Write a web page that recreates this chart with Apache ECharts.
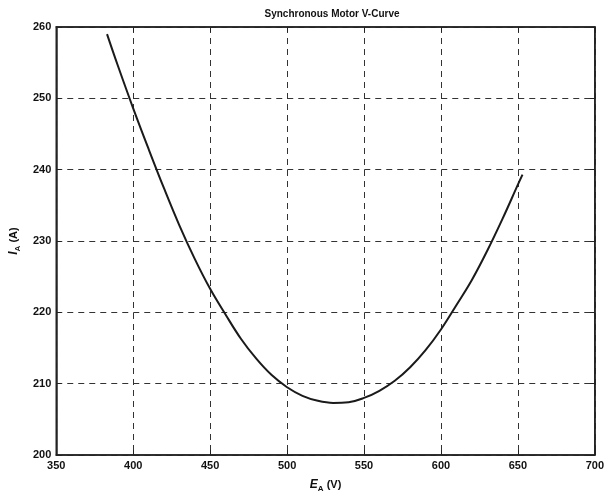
<!DOCTYPE html>
<html>
<head>
<meta charset="utf-8">
<script src="https://cdn.jsdelivr.net/npm/echarts@6/dist/echarts.min.js"></script>
<style>html,body{margin:0;padding:0;background:#fff}#c{width:607px;height:498px}</style>
</head>
<body>
<div id="c"></div>
<script>
const titleText = 'Synchronous Motor V-Curve';
const eaValues = [383, 390, 400, 410, 420, 430, 440, 450, 460, 470, 480, 490, 500, 510, 520, 530, 540, 550, 560, 570, 580, 590, 600, 610, 620, 630, 640, 650, 653];
const iaValues = [259.0, 254.6, 248.6, 242.9, 237.4, 232.2, 227.5, 223.3, 219.7, 216.3, 213.5, 211.2, 209.5, 208.3, 207.6, 207.3, 207.4, 208.0, 209.0, 210.4, 212.3, 214.7, 217.6, 221.0, 224.5, 228.6, 233.1, 237.9, 239.3];
const xTicks = [350, 400, 450, 500, 550, 600, 650, 700];
const yTicks = [200, 210, 220, 230, 240, 250, 260];

const points = eaValues.map((x, i) => [x, iaValues[i]]);
const font = 'Liberation Sans, Arial, sans-serif';
const gridLine = {show: true, lineStyle: {color: '#333', width: 1, type: [6, 5]}};
const labelStyle = {color: '#111', fontSize: 11, fontWeight: 'bold', fontFamily: font};

const chart = echarts.init(document.getElementById('c'), null, {renderer: 'canvas'});
chart.setOption({
  animation: false,
  backgroundColor: '#fff',
  title: {
    text: titleText, left: 327, top: 4, textAlign: 'center',
    textStyle: {fontSize: 10, fontWeight: 'bold', color: '#111', fontFamily: font}
  },
  grid: {left: 56, right: 7, top: 27, bottom: 37, show: true, borderColor: '#222', borderWidth: 1.5},
  xAxis: [{
    type: 'value', min: xTicks[0], max: xTicks[xTicks.length - 1], interval: 50,
    axisLine: {show: true, lineStyle: {color: '#222', width: 1.5}},
    axisTick: {show: true, inside: true, length: 5, lineStyle: {color: '#222'}},
    axisLabel: Object.assign({margin: 5}, labelStyle),
    splitLine: gridLine,
    name: '{i|E}{s|A}{n| (V)}', nameLocation: 'middle', nameGap: 22,
    nameTextStyle: {rich: {
      i: {fontSize: 12, fontWeight: 'bold', fontStyle: 'italic', fontFamily: font, color: '#111'},
      s: {fontSize: 8, fontWeight: 'bold', fontFamily: font, color: '#111', padding: [8, 0, 0, 0]},
      n: {fontSize: 11, fontWeight: 'bold', fontFamily: font, color: '#111'}
    }}
  }, {
    type: 'value', position: 'top', min: xTicks[0], max: xTicks[xTicks.length - 1], interval: 50,
    axisLine: {show: true, lineStyle: {color: '#222', width: 1.5}},
    axisTick: {show: true, inside: true, length: 5, lineStyle: {color: '#222'}},
    axisLabel: {show: false}, splitLine: {show: false}
  }],
  yAxis: [{
    type: 'value', min: yTicks[0], max: yTicks[yTicks.length - 1], interval: 10,
    axisLine: {show: true, lineStyle: {color: '#222', width: 1.5}},
    axisTick: {show: true, inside: true, length: 5, lineStyle: {color: '#222'}},
    axisLabel: Object.assign({margin: 5}, labelStyle),
    splitLine: gridLine,
    name: '{i|I}{s|A}{n| (A)}', nameLocation: 'middle', nameGap: 32, nameRotate: 90,
    nameTextStyle: {rich: {
      i: {fontSize: 12, fontWeight: 'bold', fontStyle: 'italic', fontFamily: font, color: '#111'},
      s: {fontSize: 8, fontWeight: 'bold', fontFamily: font, color: '#111', padding: [8, 0, 0, 0]},
      n: {fontSize: 11, fontWeight: 'bold', fontFamily: font, color: '#111'}
    }}
  }, {
    type: 'value', position: 'right', min: yTicks[0], max: yTicks[yTicks.length - 1], interval: 10,
    axisLine: {show: true, lineStyle: {color: '#222', width: 1.5}},
    axisTick: {show: true, inside: true, length: 5, lineStyle: {color: '#222'}},
    axisLabel: {show: false}, splitLine: {show: false}
  }],
  series: [{
    type: 'line', data: points, smooth: 0.4, showSymbol: false,
    lineStyle: {color: '#1a1a1a', width: 2}
  }]
});
</script>
</body>
</html>
